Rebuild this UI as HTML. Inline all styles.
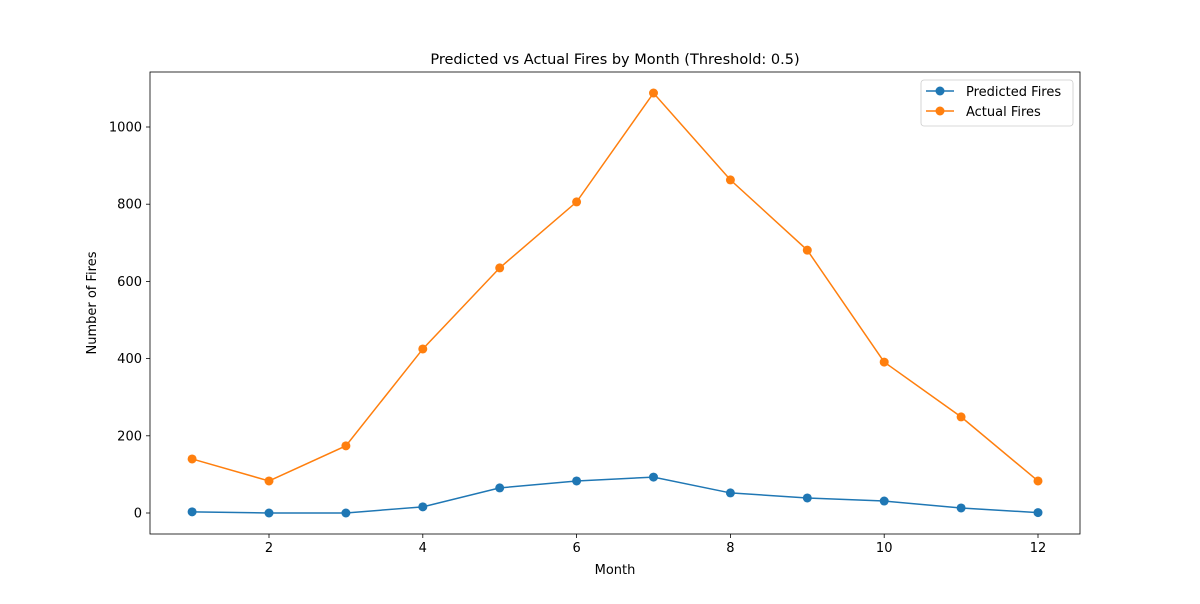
<!DOCTYPE html>
<html><head><meta charset="utf-8"><style>
body{margin:0;background:#fff;font-family:"DejaVu Sans","Liberation Sans",sans-serif;}
text{font-family:"DejaVu Sans","Liberation Sans",sans-serif;fill:#000;}
</style></head><body>
<svg id="chart" width="1200" height="600">
<rect width="1200" height="600" fill="#fff"/>
<text x="615" y="64" font-size="14.5" text-anchor="middle">Predicted vs Actual Fires by Month (Threshold: 0.5)</text>
<g id="axes"></g>
<g id="series"></g>
<rect x="150" y="72" width="930" height="462" fill="none" stroke="#000" stroke-width="0.8"/>
<text x="615" y="574" font-size="13" text-anchor="middle">Month</text>
<text transform="translate(96,303) rotate(-90)" font-size="13" text-anchor="middle">Number of Fires</text>
<g>
<rect x="921" y="80" width="152" height="46" rx="3" fill="#fff" stroke="#ccc" stroke-width="0.8"/>
<g><line x1="926" y1="91" x2="954" y2="91" stroke="#1f77b4" stroke-width="1.5"/><circle cx="940" cy="91" r="4.5" fill="#1f77b4"/><text x="966" y="96" font-size="13">Predicted Fires</text></g>
<g><line x1="926" y1="111" x2="954" y2="111" stroke="#ff7f0e" stroke-width="1.5"/><circle cx="940" cy="111" r="4.5" fill="#ff7f0e"/><text x="966" y="116" font-size="13">Actual Fires</text></g>
</g>
</svg>
<script>
const months=[1,2,3,4,5,6,7,8,9,10,11,12];
const predicted=[3,0,0,16,65,83,93,52,39,31,13,1];
const actual=[140,83,174,425,635,806,1088,863,681,391,249,83];
const xTicks=[2,4,6,8,10,12];
const yTicks=[0,200,400,600,800,1000];
const NS="http://www.w3.org/2000/svg";
const xs=v=>192.1+(v-1)*76.9;
const ys=v=>513-v*0.386;
function mk(tag,attrs,parent){const e=document.createElementNS(NS,tag);for(const k in attrs)e.setAttribute(k,attrs[k]);parent.appendChild(e);return e;}
const ax=document.getElementById('axes');
xTicks.forEach(t=>{
 const l=mk('line',{x1:xs(t),x2:xs(t),y1:534,y2:538,stroke:'#000','stroke-width':0.8},ax);
 
 
 const tx=mk('text',{x:xs(t),y:552,'font-size':13,'text-anchor':'middle'},ax);tx.textContent=t;
 
 
});
yTicks.forEach(t=>{
 const l=mk('line',{x1:146,x2:150,y1:ys(t),y2:ys(t),stroke:'#000','stroke-width':0.8},ax);
 
 
 const tx=mk('text',{x:142,y:ys(t)+4.5,'font-size':13,'text-anchor':'end'},ax);tx.textContent=t;
 
 
});
const sg=document.getElementById('series');
[[predicted,'#1f77b4','predicted'],[actual,'#ff7f0e','actual']].forEach(([d,c,n])=>{
 const p=mk('polyline',{points:d.map((v,i)=>xs(months[i])+','+ys(v)).join(' '),fill:'none',stroke:c,'stroke-width':1.5},sg);
 
 
 d.forEach((v,i)=>{
  const m=mk('circle',{cx:xs(months[i]),cy:ys(v),r:4.5,fill:c},sg);
  
  
 });
});
</script>
</body></html>
